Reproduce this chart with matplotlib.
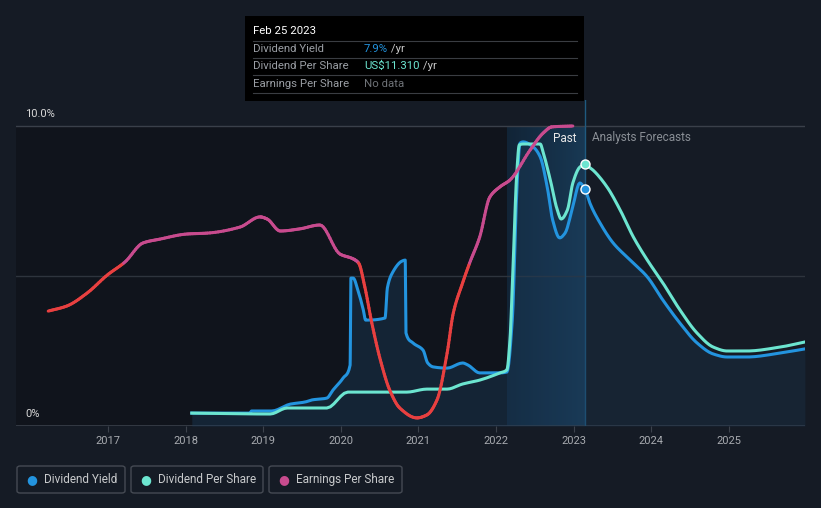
import matplotlib.pyplot as plt
from matplotlib.collections import LineCollection
from matplotlib.patches import Rectangle, FancyBboxPatch
import numpy as np

# ---- data (years, % of axis) ----
yield_years = [2018.08, 2018.83, 2018.85, 2019.11, 2019.35, 2019.54, 2019.63, 2019.82, 2019.90,
               2020.03, 2020.12, 2020.13, 2020.16, 2020.22, 2020.29, 2020.32, 2020.57, 2020.60,
               2020.67, 2020.79, 2020.83, 2020.84, 2020.93, 2021.06, 2021.12, 2021.19, 2021.37,
               2021.57, 2021.64, 2021.79, 2022.05, 2022.14, 2022.21, 2022.27, 2022.31, 2022.35,
               2022.48, 2022.57, 2022.66, 2022.73, 2022.82, 2022.89, 2022.98, 2023.08, 2023.15]
yield_vals = [0.43, 0.43, 0.50, 0.50, 0.73, 0.80, 0.87, 0.93, 1.20,
              1.60, 2.03, 4.93, 4.93, 4.53, 3.87, 3.53, 3.60, 4.60,
              5.13, 5.50, 5.53, 3.10, 2.77, 2.53, 2.10, 1.97, 1.93,
              2.10, 2.03, 1.77, 1.77, 1.80, 3.53, 7.97, 9.43, 9.47,
              9.30, 8.97, 7.97, 6.87, 6.27, 6.43, 7.20, 8.10, 7.90]
yield_fc_years = [2023.15, 2023.21, 2023.34, 2023.51, 2023.73, 2023.95, 2024.15, 2024.37,
                  2024.59, 2024.80, 2024.98, 2025.23, 2025.66, 2025.98]
yield_fc_vals = [7.90, 7.43, 6.77, 6.10, 5.53, 4.97, 4.20, 3.43, 2.77, 2.40, 2.30, 2.30, 2.43, 2.57]

dps_years = [2018.08, 2019.09, 2019.31, 2019.82, 2020.09, 2020.85, 2021.11, 2021.37, 2021.57,
             2021.79, 2022.05, 2022.14, 2022.18, 2022.21, 2022.27, 2022.30, 2022.35, 2022.57,
             2022.61, 2022.70, 2022.79, 2022.84, 2022.92, 2022.99, 2023.08, 2023.15]
dps_vals = [0.43, 0.40, 0.60, 0.60, 1.13, 1.13, 1.23, 1.23, 1.40,
            1.53, 1.77, 1.87, 2.87, 4.63, 8.53, 9.37, 9.40, 9.40,
            9.10, 8.20, 7.20, 6.90, 7.20, 8.10, 8.63, 8.73]
dps_fc_years = [2023.15, 2023.25, 2023.43, 2023.60, 2023.77, 2023.95, 2024.15, 2024.37,
                2024.59, 2024.80, 2024.98, 2025.23, 2025.66, 2025.98]
dps_fc_vals = [8.73, 8.53, 7.97, 7.20, 6.30, 5.53, 4.77, 3.87, 3.10, 2.63, 2.50, 2.50, 2.63, 2.80]

eps_years = [2016.23, 2016.47, 2016.73, 2016.99, 2017.22, 2017.45, 2017.67, 2018.02, 2018.28,
             2018.70, 2018.96, 2019.05, 2019.22, 2019.47, 2019.73, 2019.99, 2020.16, 2020.23,
             2020.31, 2020.40, 2020.51, 2020.63, 2020.76, 2020.98, 2021.11, 2021.24, 2021.37,
             2021.45, 2021.57, 2021.66, 2021.79, 2021.92, 2022.05, 2022.18, 2022.44, 2022.61,
             2022.72, 2022.99]
eps_vals = [3.83, 4.00, 4.43, 5.03, 5.47, 6.10, 6.23, 6.40, 6.43,
            6.63, 6.97, 6.90, 6.50, 6.57, 6.70, 5.73, 5.57, 5.43,
            4.63, 3.43, 2.20, 1.20, 0.60, 0.27, 0.37, 0.87, 2.43,
            3.77, 4.77, 5.43, 6.30, 7.63, 7.97, 8.20, 9.20, 9.77,
            9.97, 10.00]
eps_split = 5.43

year_ticks = [2017, 2018, 2019, 2020, 2021, 2022, 2023, 2024, 2025]
now = 2023.15
past_start = 2022.14

BG = '#151b25'
BLUE = '#2394df'
TEAL = '#6ce5d0'
RED = '#e84040'
MAG = '#c84b8e'

plt.rcParams['font.family'] = ['Roboto', 'DejaVu Sans']


def smooth(xs, ys, n=12):
    # monotone cubic (Fritsch-Carlson) just for drawing between the read points
    x = np.asarray(xs, float)
    y = np.asarray(ys, float)
    h = np.diff(x)
    h[h == 0] = 1e-6
    d = np.diff(y) / h
    m = np.zeros_like(y)
    m[0], m[-1] = d[0], d[-1]
    for i in range(1, len(y) - 1):
        if d[i - 1] * d[i] > 0:
            w1 = 2 * h[i] + h[i - 1]
            w2 = h[i] + 2 * h[i - 1]
            m[i] = (w1 + w2) / (w1 / d[i - 1] + w2 / d[i])
    ox, oy = [], []
    for i in range(len(x) - 1):
        t = np.linspace(0, 1, n, endpoint=False)
        h00 = 2 * t**3 - 3 * t**2 + 1
        h10 = t**3 - 2 * t**2 + t
        h01 = -2 * t**3 + 3 * t**2
        h11 = t**3 - t**2
        ox.extend(x[i] + t * h[i])
        oy.extend(h00 * y[i] + h10 * h[i] * m[i] + h01 * y[i + 1] + h11 * h[i] * m[i + 1])
    ox.append(x[-1])
    oy.append(y[-1])
    return np.array(ox), np.array(oy)


W, H = 821, 508
fig = plt.figure(figsize=(W / 100, H / 100), dpi=100)
fig.patch.set_facecolor(BG)


def fx(px):
    return px / W


def fy(py):
    return 1 - py / H


# axes: x pixel 16..805, y pixel 426 (0%) .. 100
ax = fig.add_axes([fx(16), fy(426), fx(805) - fx(16), fy(100) - fy(426)])
ax.set_facecolor(BG)
xmin = 2017 + (16 - 108) / 77.6
xmax = 2017 + (805 - 108) / 77.6
ax.set_xlim(xmin, xmax)
ax.set_ylim(0, (426 - 100) / 30)
for s in ax.spines.values():
    s.set_visible(False)
ax.set_yticks([])
ax.set_xticks(year_ticks)
ax.set_xticklabels([str(y) for y in year_ticks], color='#a8abb0', fontsize=8)
ax.tick_params(axis='x', length=4, color='#3c424c', pad=3)

# darker past region
ax.fill_between([xmin, now], 0, 10, color='#0c1016', alpha=0.55, lw=0, zorder=0)
# highlighted band, gradient toward "now"
a = np.linspace(0, 1, 100)
img = np.zeros((1, 100, 4))
img[0, :, 0] = (18 + 10 * a) / 255
img[0, :, 1] = (42 + 28 * a) / 255
img[0, :, 2] = (64 + 40 * a) / 255
img[0, :, 3] = 0.75
ax.imshow(img, extent=[past_start, now, 0, 10], aspect='auto', zorder=0.5,
          interpolation='bilinear')

# grid
ax.axhline(10, color='#3a404a', lw=1, zorder=1)
ax.axhline(5, color='#2e343d', lw=1, zorder=1)
ax.axhline(0, color='#3a404a', lw=1.2, zorder=1)
ax.axvline(now, ymin=0, ymax=1, color='#1f5a80', lw=1, zorder=1)

yx, yy_ = smooth(yield_years, yield_vals, 6)
yfx, yfy = smooth(yield_fc_years, yield_fc_vals)
dx, dy = smooth(dps_years, dps_vals, 6)
dfx, dfy = smooth(dps_fc_years, dps_fc_vals)
ex, ey = smooth(eps_years, eps_vals)

# fill under yield
ax.fill_between(yx, yy_, 0, color='#1c3d5c', alpha=0.4, lw=0, zorder=1.5)
ax.fill_between(yfx, yfy, 0, color='#1c3550', alpha=0.35, lw=0, zorder=1.5)

ax.plot(yx, yy_, color=BLUE, lw=2.2, zorder=3, solid_joinstyle='round')
ax.plot(yfx, yfy, color=BLUE, lw=2.2, zorder=3, solid_joinstyle='round')
ax.plot(dx, dy, color=TEAL, lw=2.2, zorder=4, solid_joinstyle='round')
ax.plot(dfx, dfy, color=TEAL, lw=2.2, zorder=4, solid_joinstyle='round')

# EPS two-colour line
pts = np.column_stack([ex, ey])
segs = np.stack([pts[:-1], pts[1:]], axis=1)
mids = (pts[:-1, 1] + pts[1:, 1]) / 2
cols = [MAG if m >= eps_split else RED for m in mids]
ax.add_collection(LineCollection(segs, colors=cols, lw=2.2, capstyle='round',
                                 joinstyle='round', zorder=5))

ax.plot([now], [dps_vals[-1]], 'o', ms=6.5, mfc=TEAL, mec='white', mew=1, zorder=6)
ax.plot([now], [yield_vals[-1]], 'o', ms=6.5, mfc=BLUE, mec='white', mew=1, zorder=6)

# labels
fig.text(fx(25), fy(114), '10.0%', color='#d8d8d8', fontsize=8, va='center')
fig.text(fx(25), fy(414), '0%', color='#d8d8d8', fontsize=8, va='center')
fig.text(fx(576), fy(138), 'Past', color='#e8e8e8', fontsize=8.5, va='center', ha='right')
fig.text(fx(592), fy(138), 'Analysts Forecasts', color='#8a8f96', fontsize=8.5, va='center')

# tooltip
fig.patches.append(Rectangle((fx(245), fy(101)), fx(584) - fx(245), fy(16) - fy(101),
                             transform=fig.transFigure, facecolor='#000000', edgecolor='none',
                             zorder=10))
fig.text(fx(253), fy(31), 'Feb 25 2023', color='white', fontsize=8.2, va='center', zorder=11)
for yy in [41, 58, 75, 93]:
    fig.lines.append(plt.Line2D([fx(253), fx(577)], [fy(yy), fy(yy)], transform=fig.transFigure,
                                color='#3a3d42', lw=0.8, zorder=11))
rows = [('Dividend Yield', '7.9%', BLUE, ' /yr', 49),
        ('Dividend Per Share', 'US$11.310', TEAL, ' /yr', 66),
        ('Earnings Per Share', 'No data', '#6f7378', '', 84)]
for name, val, c, unit, yy in rows:
    fig.text(fx(253), fy(yy), name, color='#9a9ea4', fontsize=8.2, va='center', zorder=11)
    t = fig.text(fx(364), fy(yy), val, color=c, fontsize=8.2, va='center', zorder=11)
    if unit:
        fig.canvas.draw()
        bb = t.get_window_extent()
        fig.text(bb.x1 / W, fy(yy), unit, color='#c8c8c8', fontsize=8.2, va='center', zorder=11)

# legend
legend = [('Dividend Yield', BLUE, 17, 125), ('Dividend Per Share', TEAL, 131, 263),
          ('Earnings Per Share', MAG, 269, 402)]
for name, c, x0, x1 in legend:
    fig.patches.append(FancyBboxPatch((fx(x0), fy(493)), fx(x1) - fx(x0), fy(466) - fy(493),
                                      boxstyle='round,pad=0,rounding_size=0.004',
                                      transform=fig.transFigure, facecolor='none',
                                      edgecolor='#454a53', lw=1))
    fig.text(fx(x0 + 15), fy(479.5), '\u25cf', color=c, fontsize=9, va='center', ha='center')
    fig.text(fx(x0 + 27), fy(479.5), name, color='#c8cacc', fontsize=8.5, va='center')

fig.savefig('out.png', dpi=100, facecolor=BG)
